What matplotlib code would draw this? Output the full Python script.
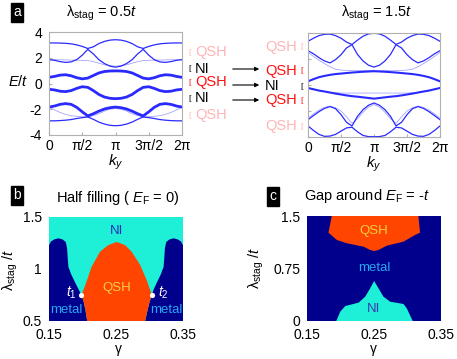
import matplotlib
matplotlib.use("Agg")
import matplotlib.pyplot as plt
import numpy as np

plt.rcParams['font.family'] = ['Liberation Sans', 'DejaVu Sans']
plt.rcParams['mathtext.fontset'] = 'custom'
plt.rcParams['mathtext.rm'] = 'Liberation Sans'
plt.rcParams['mathtext.it'] = 'Liberation Sans:italic'

W, H = 457, 359

# ---------------- data ----------------
ky_ticks = [0, np.pi/2, np.pi, 3*np.pi/2, 2*np.pi]
ky_ticklabels = ['0', 'π/2', 'π', '3π/2', '2π']
ky = np.linspace(0, 2*np.pi, 25)

# lambda_stag = 0.5 t
L1 = [3.15,3.15,3.14,3.12,3.08,3.0,2.88,2.72,2.85,3.1,3.27,3.37,3.40,3.37,3.27,3.1,2.85,2.72,2.88,3.0,3.08,3.12,3.14,3.15,3.15]
L2 = [1.85,1.80,1.70,1.64,1.68,1.85,2.2,2.65,2.3,1.85,1.55,1.35,1.27,1.35,1.55,1.85,2.3,2.65,2.2,1.85,1.68,1.64,1.70,1.80,1.85]
L3 = [0.48,0.55,0.65,0.68,0.6,0.45,0.36,0.42,0.62,0.82,0.93,0.97,0.98,0.97,0.93,0.82,0.62,0.42,0.36,0.45,0.6,0.68,0.65,0.55,0.48]
L4 = [-0.45,-0.50,-0.60,-0.63,-0.55,-0.38,-0.25,-0.30,-0.55,-0.85,-1.05,-1.15,-1.18,-1.15,-1.05,-0.85,-0.55,-0.30,-0.25,-0.38,-0.55,-0.63,-0.60,-0.50,-0.45]
L5 = [-1.83,-1.75,-1.62,-1.56,-1.62,-1.85,-2.2,-2.52,-2.35,-2.15,-1.98,-1.88,-1.83,-1.88,-1.98,-2.15,-2.35,-2.52,-2.2,-1.85,-1.62,-1.56,-1.62,-1.75,-1.83]
L6 = [-2.9,-2.9,-2.88,-2.85,-2.8,-2.72,-2.65,-2.6,-2.78,-3.0,-3.15,-3.25,-3.28,-3.25,-3.15,-3.0,-2.78,-2.6,-2.65,-2.72,-2.8,-2.85,-2.88,-2.9,-2.9]
LT1 = [1.85,1.85,1.84,1.83,1.82,1.82,1.80,1.78,1.70,1.58,1.45,1.38,1.35,1.38,1.45,1.58,1.70,1.78,1.80,1.82,1.82,1.83,1.84,1.85,1.85]
LT2 = [-1.83,-2.05,-2.25,-2.4,-2.5,-2.55,-2.58,-2.6,-2.5,-2.35,-2.15,-2.0,-1.95,-2.0,-2.15,-2.35,-2.5,-2.6,-2.58,-2.55,-2.5,-2.4,-2.25,-2.05,-1.83]

# lambda_stag = 1.5 t
R1 = [3.36,3.6,3.8,3.9,3.92,3.8,3.6,3.3,3.12,3.45,3.75,3.93,3.98,3.93,3.75,3.45,3.12,3.3,3.6,3.8,3.92,3.9,3.8,3.6,3.36]
R2 = [2.64,2.4,2.1,1.85,1.7,1.95,2.33,2.85,3.1,2.35,1.85,1.52,1.38,1.52,1.85,2.35,3.1,2.85,2.33,1.95,1.7,1.85,2.1,2.4,2.64]
RT1 = [2.5,2.2,1.9,1.65,1.4,1.22,1.15,1.12,1.12,1.12,1.12,1.12,1.13,1.12,1.12,1.12,1.12,1.12,1.15,1.22,1.4,1.65,1.9,2.2,2.5]
R3 = [0.28,0.45,0.6,0.7,0.78,0.84,0.88,0.92,0.96,0.99,1.02,1.04,1.06,1.04,1.02,0.99,0.96,0.92,0.88,0.84,0.78,0.7,0.6,0.45,0.28]
R4 = [-0.23,-0.33,-0.43,-0.5,-0.58,-0.66,-0.73,-0.8,-0.86,-0.9,-0.95,-1.0,-1.05,-1.0,-0.95,-0.9,-0.86,-0.8,-0.73,-0.66,-0.58,-0.5,-0.43,-0.33,-0.23]
RT2 = [-0.23,-0.3,-0.4,-0.5,-0.56,-0.6,-0.62,-0.62,-0.62,-0.62,-0.62,-0.62,-0.62,-0.62,-0.62,-0.62,-0.62,-0.62,-0.62,-0.6,-0.56,-0.5,-0.4,-0.3,-0.23]
R5 = [-2.67,-2.35,-2.05,-1.8,-1.66,-1.82,-2.28,-2.87,-3.15,-2.41,-1.9,-1.56,-1.38,-1.56,-1.9,-2.41,-3.15,-2.87,-2.28,-1.82,-1.66,-1.8,-2.05,-2.35,-2.67]
R6 = [-3.15,-3.5,-3.8,-3.95,-3.93,-3.8,-3.55,-3.3,-3.25,-3.6,-3.88,-3.97,-3.98,-3.97,-3.88,-3.6,-3.25,-3.3,-3.55,-3.8,-3.93,-3.95,-3.8,-3.5,-3.15]
RT3 = [-2.55,-2.22,-1.93,-1.72,-1.62,-1.75,-2.0,-2.45,-2.95,-2.6,-2.1,-1.7,-1.5,-1.7,-2.1,-2.6,-2.95,-2.45,-2.0,-1.75,-1.62,-1.72,-1.93,-2.22,-2.55]

# phase diagram b (half filling)
b_left_metal_g = [0.15,0.15,0.153,0.158,0.164,0.170,0.175,0.177,0.178,0.179,0.183,0.189,0.1945,0.1985,0.202,0.2045,0.207]
b_left_metal_l = [0.5,1.23,1.265,1.285,1.295,1.285,1.26,1.2,1.1,1.02,0.95,0.87,0.8,0.75,0.68,0.6,0.5]
b_right_metal_g = [0.35,0.35,0.347,0.342,0.336,0.330,0.325,0.323,0.322,0.321,0.317,0.311,0.306,0.3035,0.300,0.297,0.2935]
b_right_metal_l = [0.5,1.23,1.265,1.285,1.295,1.285,1.26,1.2,1.1,1.02,0.95,0.87,0.8,0.75,0.68,0.6,0.5]
b_qsh_g = [0.207,0.2045,0.202,0.1985,0.205,0.2135,0.226,0.2385,0.251,0.2635,0.2735,0.286,0.296,0.3035,0.300,0.297,0.2935]
b_qsh_l = [0.5,0.6,0.68,0.75,0.86,1.02,1.165,1.23,1.26,1.23,1.165,1.04,0.89,0.75,0.68,0.6,0.5]
t_points_g = [0.1985, 0.3035]
t_points_l = [0.75, 0.75]

# phase diagram c (gap around E_F = -t)
c_qsh_g = [0.187,0.182,0.1947,0.2096,0.2344,0.2443,0.2502,0.2567,0.2691,0.2939,0.3113,0.3187,0.3163]
c_qsh_l = [1.5,1.262,1.157,1.11,1.062,1.014,1.0,1.014,1.076,1.133,1.229,1.262,1.5]
c_ni_g = [0.1937,0.1996,0.2071,0.227,0.2369,0.2443,0.2502,0.2567,0.2641,0.274,0.294,0.2989,0.3078]
c_ni_l = [0.0,0.133,0.214,0.262,0.348,0.467,0.571,0.467,0.348,0.276,0.243,0.181,0.0]

CYAN = '#1ef0d7'
NAVY = '#00008c'
ORANGE = '#ff4500'
BLUE = '#2a2aff'
PINK = '#ffb4b4'
RED = '#ff1010'

fig = plt.figure(figsize=(W/100, H/100), dpi=100)

def ax_px(l, r, t, b):
    return fig.add_axes([l/W, 1-b/H, (r-l)/W, (b-t)/H])

def ftext(x, y, s, **kw):
    fig.text(x/W, 1-y/H, s, **kw)

# ---------------- panel a ----------------
def band_axes(ax, bands, thick, thin, thick_lw):
    for b_ in bands:
        ax.plot(ky, b_, color=BLUE, lw=0.9)
    for b_ in thick:
        ax.plot(ky, b_, color=BLUE, lw=thick_lw)
    for b_ in thin:
        ax.plot(ky, b_, color=BLUE, lw=0.5, alpha=0.5)
    ax.set_xlim(0, 2*np.pi)
    ax.set_ylim(-4, 4)
    ax.set_xticks(ky_ticks)
    ax.set_xticklabels(ky_ticklabels, fontsize=10)
    for s in ax.spines.values():
        s.set_color('#b0b0b0')
        s.set_linewidth(0.8)
    ax.tick_params(direction='in', length=2, color='#b0b0b0', pad=3)
    ax.set_xlabel('$k_y$', fontsize=11, labelpad=0)

axL = ax_px(49, 182, 32, 135)
band_axes(axL, [L1, L2, L6], [L3, L4, L5], [LT1, LT2], 2.0)
axL.set_yticks([4, 2, 0, -2, -4])
axL.set_yticklabels(['4', '2', '0', '-2', '-4'], fontsize=10)
axL.tick_params(axis='y', pad=5)

axR = ax_px(308, 440, 33, 137)
band_axes(axR, [R1, R2, R5, R6], [R3, R4], [RT1, RT2, RT3], 1.5)
axR.set_yticks([4, 2, 0, -2, -4])
axR.set_yticklabels([])

ftext(18, 82, '$E$/$t$', fontsize=10.5, ha='center', va='center')
ftext(101, 13, 'λ$_{\\mathrm{stag}}$ = 0.5$t$', fontsize=10.5, ha='center', va='center')
ftext(376, 13, 'λ$_{\\mathrm{stag}}$ = 1.5$t$', fontsize=10.5, ha='center', va='center')

# phase labels between band panels
left_labels = [(52, 'QSH', PINK), (69, 'NI', 'black'), (82, 'QSH', RED), (98, 'NI', 'black'), (115, 'QSH', PINK)]
for y, s, c in left_labels:
    ftext(190, y, '[', fontsize=6, color=c, ha='center', va='center')
    ftext(195, y, s, fontsize=10.5, color=c, ha='left', va='center')
right_labels = [(47, 'QSH', PINK), (71, 'QSH', RED), (86, 'NI', 'black'), (100, 'QSH', RED), (126, 'QSH', PINK)]
for y, s, c in right_labels:
    ftext(265, y, s, fontsize=10.5, color=c, ha='left', va='center')
    ftext(302, y, '[', fontsize=6, color=c, ha='center', va='center')
for y in [69, 85, 100]:
    fig.add_artist(matplotlib.patches.FancyArrowPatch((230/W, 1-y/H), (262/W, 1-y/H),
                   transform=fig.transFigure, arrowstyle='-|>', mutation_scale=6,
                   color='black', lw=0.8))

# panel letters
def letter(x, y, s):
    ftext(x, y, s, fontsize=10, color='white', ha='center', va='center',
          bbox=dict(boxstyle='square,pad=0.18', fc='black', ec='black'))
letter(17, 12, 'a')
letter(17, 195, 'b')
letter(273, 196, 'c')

# ---------------- panel b ----------------
axb = ax_px(49, 183, 217, 321)
axb.set_facecolor(CYAN)
axb.fill(b_left_metal_g, b_left_metal_l, color=NAVY, lw=0)
axb.fill(b_right_metal_g, b_right_metal_l, color=NAVY, lw=0)
axb.fill(b_qsh_g, b_qsh_l, color=ORANGE, lw=0)
axb.scatter(t_points_g, t_points_l, s=14, color='white', zorder=5, lw=0)
axb.set_xlim(0.15, 0.35)
axb.set_ylim(0.5, 1.5)
axb.set_xticks([0.15, 0.25, 0.35])
axb.set_xticklabels(['0.15', '0.25', '0.35'], fontsize=10)
axb.set_yticks([0.5, 1, 1.5])
axb.set_yticklabels(['0.5', '1', '1.5'], fontsize=10)
axb.tick_params(length=0, pad=5)
for s in axb.spines.values():
    s.set_visible(False)
axb.text(0.251, 1.37, 'NI', color='#2c2cb8', fontsize=9.5, ha='center', va='center')
axb.text(0.251, 0.82, 'QSH', color='#f8d040', fontsize=9.5, ha='center', va='center')
axb.text(0.176, 0.61, 'metal', color='#2aa6ee', fontsize=9.5, ha='center', va='center')
axb.text(0.325, 0.61, 'metal', color='#2aa6ee', fontsize=9.5, ha='center', va='center')
axb.text(0.1835, 0.77, '$t_1$', color='white', fontsize=10, ha='center', va='center')
axb.text(0.320, 0.77, '$t_2$', color='white', fontsize=10, ha='center', va='center')
ftext(118, 198, 'Half filling ( $E_{\\mathrm{F}}$ = 0)', fontsize=10.5, ha='center', va='center')
ftext(10, 270, 'λ$_{\\mathrm{stag}}$ /$t$', fontsize=10.5, ha='center', va='center', rotation=90)
ftext(118, 349, 'γ', fontsize=10, ha='center', va='center')

# ---------------- panel c ----------------
axc = ax_px(307, 441, 216, 321)
axc.set_facecolor(NAVY)
axc.fill(c_qsh_g, c_qsh_l, color=ORANGE, lw=0)
axc.fill(c_ni_g, c_ni_l, color=CYAN, lw=0)
axc.set_xlim(0.15, 0.35)
axc.set_ylim(0, 1.5)
axc.set_xticks([0.15, 0.25, 0.35])
axc.set_xticklabels(['0.15', '0.25', '0.35'], fontsize=10)
axc.set_yticks([0, 0.75, 1.5])
axc.set_yticklabels(['0', '0.75', '1.5'], fontsize=10)
axc.tick_params(length=0, pad=5)
for s in axc.spines.values():
    s.set_visible(False)
axc.text(0.25, 1.29, 'QSH', color='#f8d040', fontsize=9.5, ha='center', va='center')
axc.text(0.25, 0.76, 'metal', color='#2aa6ee', fontsize=9.5, ha='center', va='center')
axc.text(0.25, 0.17, 'NI', color='#3a3ab0', fontsize=9.5, ha='center', va='center')
ftext(367, 196, 'Gap around $E_{\\mathrm{F}}$ = -$t$', fontsize=10.5, ha='center', va='center')
ftext(256, 268, 'λ$_{\\mathrm{stag}}$ /$t$', fontsize=10.5, ha='center', va='center', rotation=90)
ftext(373, 349, 'γ', fontsize=10, ha='center', va='center')

fig.savefig('out.png', dpi=100)
